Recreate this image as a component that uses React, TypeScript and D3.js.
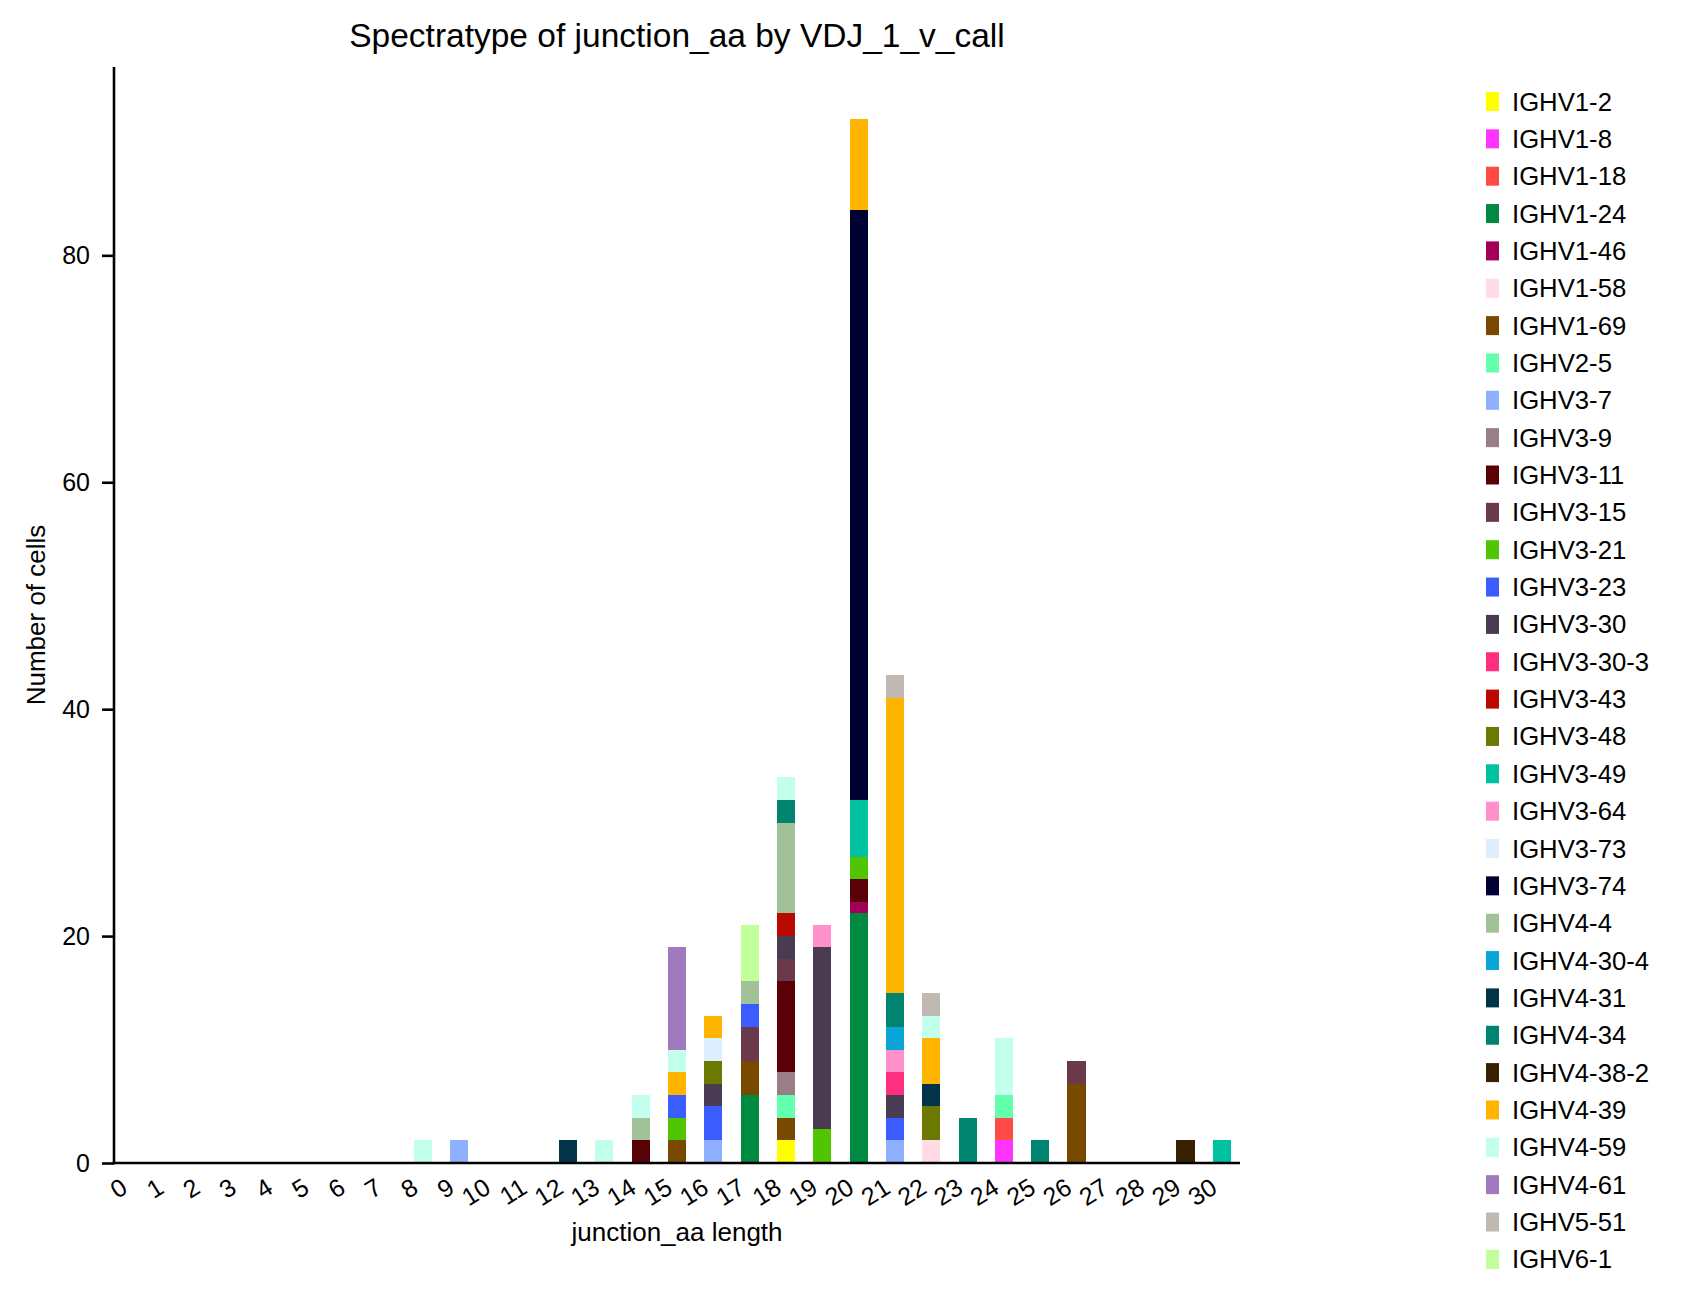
import React, { useEffect, useRef } from "react";
import * as d3 from "d3";

// ---------- data ----------
const lengths: number[] = d3.range(0, 31);
const yTicks: number[] = [0, 20, 40, 60, 80];

const vCalls: string[] = [
  "IGHV1-2", "IGHV1-8", "IGHV1-18", "IGHV1-24", "IGHV1-46", "IGHV1-58", "IGHV1-69",
  "IGHV2-5", "IGHV3-7", "IGHV3-9", "IGHV3-11", "IGHV3-15", "IGHV3-21", "IGHV3-23",
  "IGHV3-30", "IGHV3-30-3", "IGHV3-43", "IGHV3-48", "IGHV3-49", "IGHV3-64", "IGHV3-73",
  "IGHV3-74", "IGHV4-4", "IGHV4-30-4", "IGHV4-31", "IGHV4-34", "IGHV4-38-2", "IGHV4-39",
  "IGHV4-59", "IGHV4-61", "IGHV5-51", "IGHV6-1",
];

const vColors: string[] = [
  "#FFFF00", "#FF34FF", "#FF4A46", "#008941", "#A30059", "#FFDBE5", "#7A4900",
  "#63FFAC", "#8FB0FF", "#997D87", "#5A0007", "#6A3A4C", "#4FC601", "#3B5DFF",
  "#4A3B53", "#FF2F80", "#BA0900", "#6B7900", "#00C2A0", "#FF90C9", "#DDEFFF",
  "#000035", "#A1C299", "#0AA6D8", "#013349", "#00846F", "#372101", "#FFB500",
  "#C2FFED", "#A079BF", "#C0B9B2", "#C2FF99",
];

// [junction_aa length, number of cells] per v_call (same order as vCalls)
const vCounts: [number, number][][] = [
  [[18, 2]],                                             // IGHV1-2
  [[24, 2]],                                             // IGHV1-8
  [[24, 2]],                                             // IGHV1-18
  [[17, 6], [20, 22]],                                   // IGHV1-24
  [[20, 1]],                                             // IGHV1-46
  [[22, 2]],                                             // IGHV1-58
  [[15, 2], [17, 3], [18, 2], [26, 7]],                  // IGHV1-69
  [[18, 2], [24, 2]],                                    // IGHV2-5
  [[9, 2], [16, 2], [21, 2]],                            // IGHV3-7
  [[18, 2]],                                             // IGHV3-9
  [[14, 2], [18, 8], [20, 2]],                           // IGHV3-11
  [[17, 3], [18, 2], [26, 2]],                           // IGHV3-15
  [[15, 2], [19, 3], [20, 2]],                           // IGHV3-21
  [[15, 2], [16, 3], [17, 2], [21, 2]],                  // IGHV3-23
  [[16, 2], [18, 2], [19, 16], [21, 2]],                 // IGHV3-30
  [[21, 2]],                                             // IGHV3-30-3
  [[18, 2]],                                             // IGHV3-43
  [[16, 2], [22, 3]],                                    // IGHV3-48
  [[20, 5], [30, 2]],                                    // IGHV3-49
  [[19, 2], [21, 2]],                                    // IGHV3-64
  [[16, 2]],                                             // IGHV3-73
  [[20, 52]],                                            // IGHV3-74
  [[14, 2], [17, 2], [18, 8]],                           // IGHV4-4
  [[21, 2]],                                             // IGHV4-30-4
  [[12, 2], [22, 2]],                                    // IGHV4-31
  [[18, 2], [21, 3], [23, 4], [25, 2]],                  // IGHV4-34
  [[29, 2]],                                             // IGHV4-38-2
  [[15, 2], [16, 2], [20, 8], [21, 26], [22, 4]],        // IGHV4-39
  [[8, 2], [13, 2], [14, 2], [15, 2], [18, 2], [22, 2], [24, 5]], // IGHV4-59
  [[15, 9]],                                             // IGHV4-61
  [[21, 2], [22, 2]],                                    // IGHV5-51
  [[17, 5]],                                             // IGHV6-1
];

// ---------- layout ----------
const W = 1687;
const H = 1308;
const M = { left: 114, right: 1240, top: 67, bottom: 1163 };
const FONT = "'Liberation Sans', Arial, Helvetica, sans-serif";

export default function App() {
  const ref = useRef<SVGSVGElement | null>(null);

  useEffect(() => {
    const svg = d3.select(ref.current);
    svg.selectAll("*").remove();

    const rows = lengths.map((len) => {
      const row: Record<string, number> = { length: len };
      vCalls.forEach((v, i) => {
        const hit = vCounts[i].find((p) => p[0] === len);
        row[v] = hit ? hit[1] : 0;
      });
      return row;
    });

    const stacked = d3.stack<Record<string, number>>().keys(vCalls)(rows);
    const maxTotal = d3.max(rows, (r) => d3.sum(vCalls, (v) => r[v])) as number;

    const x = d3
      .scaleBand<number>()
      .domain(lengths)
      .range([M.left, M.right])
      .paddingInner(0.5)
      .paddingOuter(0.25);
    const y = d3
      .scaleLinear()
      .domain([0, maxTotal * 1.05])
      .range([M.bottom, M.top]);
    const color = d3.scaleOrdinal<string, string>().domain(vCalls).range(vColors);

    // bars
    const g = svg.append("g");
    stacked.forEach((layer) => {
      g.append("g")
        .attr("fill", color(layer.key))
        .selectAll("rect")
        .data(layer.filter((d) => d[1] - d[0] > 0))
        .join("rect")
        .attr("x", (d) => x(d.data.length as number) as number)
        .attr("width", x.bandwidth())
        .attr("y", (d) => y(d[1]))
        .attr("height", (d) => y(d[0]) - y(d[1]))
        .attr("shape-rendering", "crispEdges");
    });

    // y axis
    const yAxis = svg
      .append("g")
      .attr("transform", `translate(${M.left},0)`)
      .call(d3.axisLeft(y).tickValues(yTicks).tickSize(12).tickPadding(12).tickFormat(d3.format("d")));
    yAxis.select(".domain").remove();
    yAxis.selectAll(".tick line").attr("stroke", "#000").attr("stroke-width", 2.6);
    yAxis
      .selectAll(".tick text")
      .attr("font-family", FONT)
      .attr("font-size", 25)
      .attr("fill", "#000");

    // spines
    svg
      .append("line")
      .attr("x1", M.left)
      .attr("x2", M.left)
      .attr("y1", M.top)
      .attr("y2", M.bottom + 1.3)
      .attr("stroke", "#000")
      .attr("stroke-width", 2.6);
    svg
      .append("line")
      .attr("x1", M.left - 1.3)
      .attr("x2", M.right)
      .attr("y1", M.bottom)
      .attr("y2", M.bottom)
      .attr("stroke", "#000")
      .attr("stroke-width", 2.6);

    // x tick labels (rotated)
    svg
      .append("g")
      .selectAll("text")
      .data(lengths)
      .join("text")
      .attr("transform", (d) => {
        const cx = (x(d) as number) + x.bandwidth() / 2;
        return `translate(${cx - 3},${M.bottom + 29}) rotate(-32)`;
      })
      .attr("text-anchor", "end")
      .attr("font-family", FONT)
      .attr("font-size", 25)
      .attr("fill", "#000")
      .text((d) => String(d));

    // axis labels
    svg
      .append("text")
      .attr("x", (M.left + M.right) / 2)
      .attr("y", 1241)
      .attr("text-anchor", "middle")
      .attr("font-family", FONT)
      .attr("font-size", 26)
      .text("junction_aa length");
    svg
      .append("text")
      .attr("transform", `translate(45,${(M.top + M.bottom) / 2}) rotate(-90)`)
      .attr("text-anchor", "middle")
      .attr("font-family", FONT)
      .attr("font-size", 26)
      .text("Number of cells");

    // title
    svg
      .append("text")
      .attr("x", (M.left + M.right) / 2)
      .attr("y", 47)
      .attr("text-anchor", "middle")
      .attr("font-family", FONT)
      .attr("font-size", 33.5)
      .text("Spectratype of junction_aa by VDJ_1_v_call");

    // legend
    const lg = svg.append("g");
    const items = lg
      .selectAll("g")
      .data(vCalls)
      .join("g")
      .attr("transform", (_d, i) => `translate(1486,${101.5 + i * 37.35})`);
    items
      .append("rect")
      .attr("x", 0)
      .attr("y", -9.5)
      .attr("width", 13)
      .attr("height", 19)
      .attr("fill", (d) => color(d));
    items
      .append("text")
      .attr("x", 26)
      .attr("y", 9)
      .attr("font-family", FONT)
      .attr("font-size", 25.7)
      .attr("fill", "#000")
      .text((d) => d);
  }, []);

  return (
    <svg
      ref={ref}
      width={W}
      height={H}
      viewBox={`0 0 ${W} ${H}`}
      style={{ position: "absolute", left: 0, top: 0, background: "#fff" }}
    />
  );
}
